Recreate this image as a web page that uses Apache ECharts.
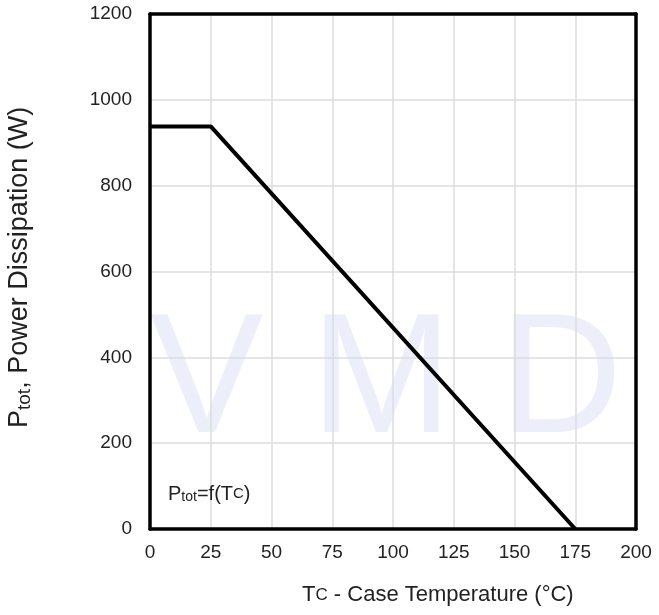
<!DOCTYPE html>
<html>
<head>
<meta charset="utf-8">
<script src="https://cdn.jsdelivr.net/npm/echarts@6/dist/echarts.min.js"></script>
<style>
  html, body { margin: 0; padding: 0; background: #fff; }
  #chart { width: 659px; height: 615px; }
</style>
</head>
<body>
<div id="chart"></div>
<script>
// case temperature (°C) and power dissipation (W)
const tempC = [0, 25, 175]
const powerW = [938, 938, 0]
const xTicks = [0, 25, 50, 75, 100, 125, 150, 175, 200]
const yTicks = [0, 200, 400, 600, 800, 1000, 1200]

const chart = echarts.init(document.getElementById('chart'))
const font = 'Liberation Sans, Arial, sans-serif'
const frame = { show: true, onZero: false, lineStyle: { color: '#000', width: 3.5 } }

const option = {
  animation: false,
  grid: { left: 150, right: 23, top: 14, bottom: 86 },
  xAxis: [
    {
      type: 'value',
      min: xTicks[0],
      max: xTicks[xTicks.length - 1],
      interval: 25,
      axisLine: frame,
      axisTick: { show: false },
      axisLabel: { color: '#222', fontSize: 19, fontFamily: font, margin: 14 },
      splitLine: { lineStyle: { color: '#dcdcdc', width: 1.5 } },
      z: 3
    },
    {
      type: 'value', position: 'top',
      min: xTicks[0], max: xTicks[xTicks.length - 1],
      axisLine: frame, axisTick: { show: false }, axisLabel: { show: false },
      splitLine: { show: false }, z: 3
    }
  ],
  yAxis: [
    {
      type: 'value',
      min: yTicks[0],
      max: yTicks[yTicks.length - 1],
      interval: 200,
      axisLine: frame,
      axisTick: { show: false },
      axisLabel: { color: '#222', fontSize: 19, fontFamily: font, margin: 18, formatter: v => String(v) },
      splitLine: { lineStyle: { color: '#dcdcdc', width: 1.5 } },
      z: 3
    },
    {
      type: 'value', position: 'right',
      min: yTicks[0], max: yTicks[yTicks.length - 1],
      axisLine: frame, axisTick: { show: false }, axisLabel: { show: false },
      splitLine: { show: false }, z: 3
    }
  ],
  graphic: [
    {
      type: 'text', left: 150, top: 300, z: -1, silent: true,
      style: { text: 'V M D', fontSize: 170, fontFamily: font, fill: '#eceef9' }
    },
    {
      type: 'text', left: 168, top: 484, z: 20,
      style: {
        text: '{b|P}{s|tot}{b|=f(T}{c|C}{b|)}',
        rich: {
          b: { fontSize: 20, fontFamily: font, fill: '#222' },
          s: { fontSize: 14, fontFamily: font, fill: '#222', padding: [7, 0, 0, 0] },
          c: { fontSize: 15, fontFamily: font, fill: '#222' }
        }
      }
    },
    {
      type: 'text', left: 302, top: 584,
      style: {
        text: '{b|T}{c|C}{b| - Case Temperature (°C)}',
        rich: {
          b: { fontSize: 22, fontFamily: font, fill: '#222' },
          c: { fontSize: 17, fontFamily: font, fill: '#222' }
        }
      }
    },
    {
      type: 'text', x: 6, y: 428, rotation: Math.PI / 2,
      style: {
        text: '{b|P}{s|tot}{b|, Power Dissipation (W)}',
        rich: {
          b: { fontSize: 27, fontFamily: font, fill: '#222' },
          s: { fontSize: 19, fontFamily: font, fill: '#222', padding: [9, 0, 0, 0] }
        }
      }
    }
  ],
  series: [
    {
      type: 'line',
      data: tempC.map((t, i) => [t, powerW[i]]),
      symbol: 'none',
      lineStyle: { color: '#000', width: 4 },
      z: 5
    }
  ]
}
chart.setOption(option)
</script>
</body>
</html>
